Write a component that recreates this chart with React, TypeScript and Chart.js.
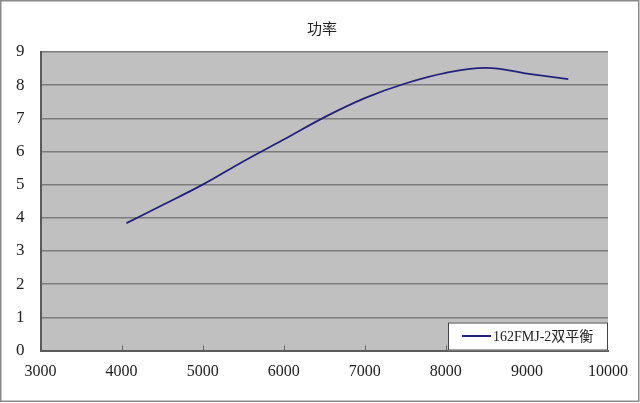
import React, { useEffect, useRef } from "react";
import { Chart, registerables } from "chart.js";

Chart.register(...registerables);

const TITLE = "功率";
const SERIES_LABEL = "162FMJ-2双平衡";
const rpm = [4060, 4500, 5000, 5500, 6000, 6500, 7000, 7500, 8000, 8500, 9000, 9510];
const power = [3.84, 4.38, 5.0, 5.7, 6.36, 7.03, 7.61, 8.05, 8.37, 8.52, 8.35, 8.18];
const xMin = 3000;
const xMax = 10000;
const xStep = 1000;
const yMin = 0;
const yMax = 9;
const yStep = 1;

const LINE_COLOR = "#22227a";
const SERIF = "'Liberation Serif', 'Noto Sans CJK SC', serif";

const decorPlugin = {
  id: "decor",
  beforeDraw(chart: any) {
    const { ctx, chartArea } = chart;
    ctx.save();
    ctx.fillStyle = "#ffffff";
    ctx.fillRect(0, 0, chart.width, chart.height);
    ctx.fillStyle = "#c0c0c0";
    ctx.fillRect(chartArea.left, chartArea.top, chartArea.right - chartArea.left, chartArea.bottom - chartArea.top);
    ctx.restore();
  },
  afterDraw(chart: any) {
    const { ctx, chartArea } = chart;
    const xs = chart.scales.x;
    ctx.save();
    // inward tick marks on bottom axis
    ctx.strokeStyle = "#666666";
    ctx.lineWidth = 1;
    for (let v = xMin + xStep; v < xMax; v += xStep) {
      const px = Math.round(xs.getPixelForValue(v)) + 0.5;
      ctx.beginPath();
      ctx.moveTo(px, chartArea.bottom);
      ctx.lineTo(px, chartArea.bottom - 5);
      ctx.stroke();
    }
    // title
    ctx.fillStyle = "#222222";
    ctx.font = "15px 'Noto Sans CJK SC', sans-serif";
    ctx.textAlign = "center";
    ctx.textBaseline = "middle";
    ctx.fillText(TITLE, 322, 28);
    // legend box
    const bx = 448, by = 322.5, bw = chartArea.right - 448, bh = chartArea.bottom - 322.5;
    ctx.fillStyle = "#ffffff";
    ctx.fillRect(bx, by, bw, bh);
    ctx.strokeStyle = "#444444";
    ctx.lineWidth = 1;
    ctx.strokeRect(bx + 0.5, by + 0.5, bw - 1, bh - 1);
    const ly = by + bh / 2 - 0.5;
    ctx.strokeStyle = LINE_COLOR;
    ctx.lineWidth = 2;
    ctx.beginPath();
    ctx.moveTo(462, ly);
    ctx.lineTo(491, ly);
    ctx.stroke();
    ctx.fillStyle = "#222222";
    ctx.font = "14px " + SERIF;
    ctx.textAlign = "left";
    ctx.textBaseline = "middle";
    ctx.fillText(chart.data.datasets[0].label, 493, ly + 1);
    // outer frame
    ctx.strokeStyle = "#8a8a8a";
    ctx.lineWidth = 1.5;
    ctx.strokeRect(0.75, 0.75, 638, 400.5);
    ctx.restore();
  },
};

export default function App() {
  const ref = useRef<HTMLCanvasElement | null>(null);
  useEffect(() => {
    if (!ref.current) return;
    const chart = new Chart(ref.current, {
      type: "line",
      data: {
        datasets: [
          {
            label: SERIES_LABEL,
            data: rpm.map((r, i) => ({ x: r, y: power[i] })),
            borderColor: LINE_COLOR,
            borderWidth: 1.8,
            pointRadius: 0,
            tension: 0.4,
            fill: false,
          },
        ],
      },
      options: {
        animation: false,
        responsive: false,
        devicePixelRatio: 1,
        layout: { padding: { left: 0, right: 31, top: 52, bottom: 0 } },
        plugins: {
          legend: { display: false },
          title: { display: false },
          tooltip: { enabled: false },
        },
        scales: {
          x: {
            type: "linear",
            min: xMin,
            max: xMax,
            ticks: {
              stepSize: xStep,
              padding: 12,
              color: "#222222",
              font: { family: SERIF, size: 16 },
              maxRotation: 0,
              callback: (v: any) => String(v),
            },
            grid: { display: false, drawTicks: false },
            border: { display: true, color: "#5a5a5a", width: 2 },
            afterFit: (s: any) => {
              s.height = 52.5;
            },
          },
          y: {
            min: yMin,
            max: yMax,
            ticks: {
              stepSize: yStep,
              padding: 16,
              color: "#222222",
              font: { family: SERIF, size: 17 },
            },
            grid: { color: "#7c7c7c", lineWidth: 1.5, drawTicks: false },
            border: { display: true, color: "#5a5a5a", width: 2 },
            afterFit: (s: any) => {
              s.width = 40.5;
            },
          },
        },
      },
      plugins: [decorPlugin],
    });
    return () => chart.destroy();
  }, []);
  return (
    <div style={{ position: "fixed", left: 0, top: 0, width: 640, height: 403 }}>
      <canvas ref={ref} width={640} height={403} style={{ width: 640, height: 403, display: "block" }} />
    </div>
  );
}
